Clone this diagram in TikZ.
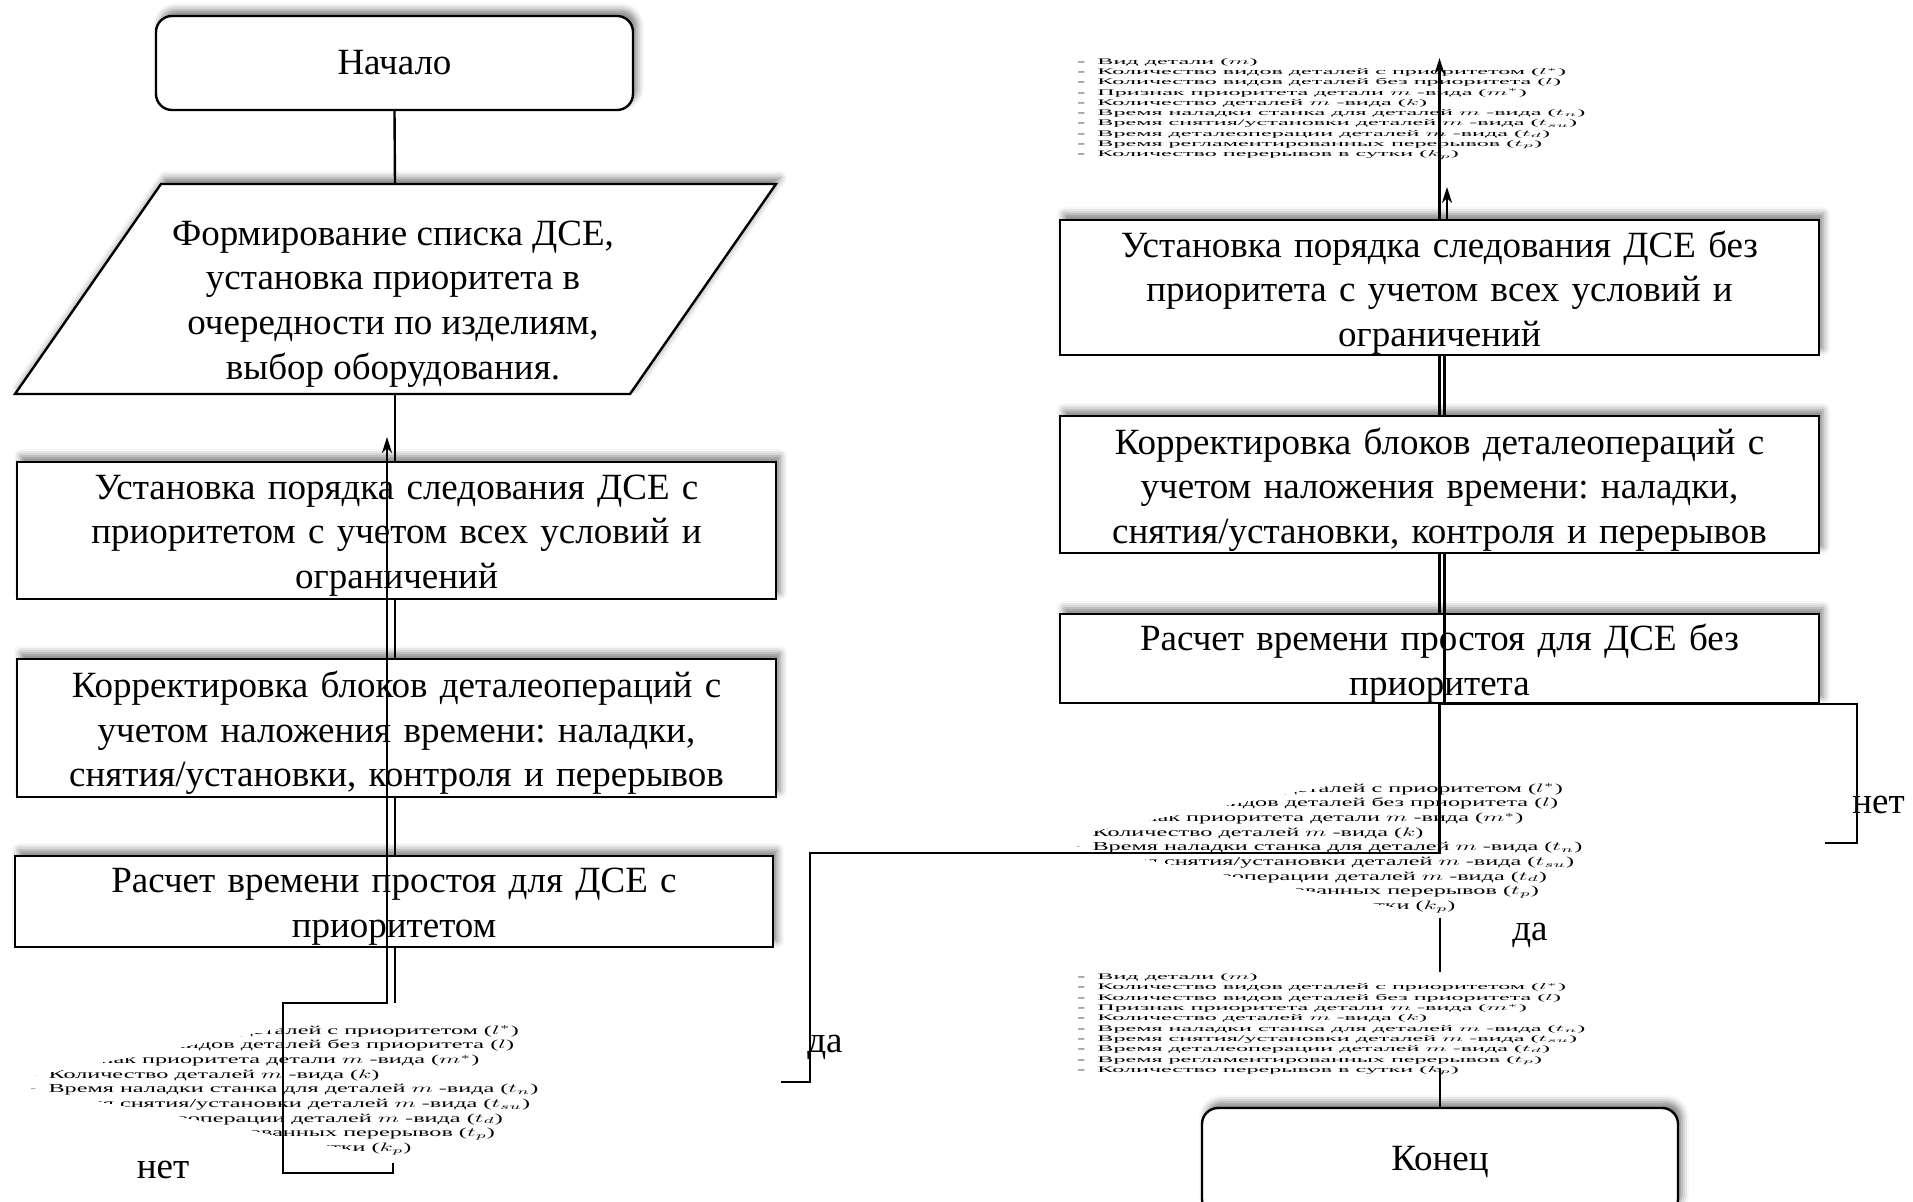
\documentclass[tikz,border=0pt]{standalone}
\usepackage{fontspec}
\setmainfont{Liberation Serif}
\usepackage{graphicx}
\usetikzlibrary{arrows.meta,shadows.blur}
\frenchspacing

\newcommand{\boxfont}{\fontsize{18.5}{22.3}\selectfont\frenchspacing}
\newcommand{\paramlist}{{\fontsize{10}{12}\selectfont
\begin{tabular}{@{}l@{}}
-\ \ Вид детали ($m$)\\
-\ \ Количество видов деталей с приоритетом ($l^{*}$)\\
-\ \ Количество видов деталей без приоритета ($l$)\\
-\ \ Признак приоритета детали $m$ -вида ($m^{*}$)\\
-\ \ Количество деталей $m$ -вида ($k$)\\
-\ \ Время наладки станка для деталей $m$ -вида ($t_n$)\\
-\ \ Время снятия/установки деталей $m$ -вида ($t_{su}$)\\
-\ \ Время деталеоперации деталей $m$ -вида ($t_d$)\\
-\ \ Время регламентированных перерывов ($t_p$)\\
-\ \ Количество перерывов в сутки ($k_p$)
\end{tabular}}}

\begin{document}
\begin{tikzpicture}[x=0.5pt,y=-0.5pt,
  shad/.style={blur shadow={shadow xshift=2pt, shadow yshift=3pt, shadow blur radius=3.5pt, shadow opacity=50}},
  box/.style={draw, line width=1.2pt, fill=white, inner sep=0pt, font=\boxfont, shad},
  btext/.style={inner sep=0pt, align=center, font=\boxfont, text width=370pt},
  term/.style={box, rounded corners=8pt},
  conn/.style={line width=1.2pt},
  arr/.style={conn, -{Stealth[length=8pt,width=5pt,inset=2.5pt]}},
  lab/.style={font=\boxfont, inner sep=0pt},
  lst/.style={inner sep=0pt, anchor=north west}]
\useasboundingbox (0,0) rectangle (1913,1202);

% ---------- left column ----------
\node[term, minimum width=238.5pt, minimum height=47pt] (start) at (394.5,63) {Начало};

\coordinate (pTL) at (161,184);
\coordinate (pTR) at (776,184);
\coordinate (pBR) at (630,394);
\coordinate (pBL) at (15,394);
\draw[line width=1.2pt, fill=white, shad] (pBL) -- (pTL) -- (pTR) -- (pBR) -- cycle;
\node[lab, align=center] (form) at (393,304) {Формирование списка ДСЕ,\\ установка приоритета в\\ очередности по изделиям,\\ выбор оборудования.};
\coordinate (formtop) at (395,184);
\coordinate (formbot) at (395,394);

\node[box, minimum width=379.5pt, minimum height=68.5pt] (b1) at (396.5,530.5) {};
\node[btext] (b1t) at ([yshift=-2.5pt]b1.center)
  {Установка порядка следования ДСЕ с\\ приоритетом с учетом всех условий и\\ ограничений};
\node[box, minimum width=379.5pt, minimum height=69pt] (b2) at (396.5,728) {};
\node[btext] (b2t) at ([yshift=-2.5pt]b2.center)
  {Корректировка блоков деталеопераций с\\ учетом наложения времени: наладки,\\ снятия/установки, контроля и перерывов};
\node[box, minimum width=379pt, minimum height=45.5pt] (b3) at (394,901.5) {};
\node[btext] (b3t) at ([yshift=-2.5pt]b3.center)
  {Расчет времени простоя для ДСЕ с\\ приоритетом};

% ---------- right column ----------
\node[box, minimum width=379.5pt, minimum height=67.5pt] (r1) at (1439.5,287.5) {};
\node[btext] (r1t) at ([yshift=-2.5pt]r1.center)
  {Установка порядка следования ДСЕ без\\ приоритета с учетом всех условий и\\ ограничений};
\node[box, minimum width=379.5pt, minimum height=68.5pt] (r2) at (1439.5,484.5) {};
\node[btext] (r2t) at ([yshift=-2.5pt]r2.center)
  {Корректировка блоков деталеопераций с\\ учетом наложения времени: наладки,\\ снятия/установки, контроля и перерывов};
\node[box, minimum width=379.5pt, minimum height=44.5pt] (r3) at (1439.5,658.5) {};
\node[btext] (r3t) at ([yshift=-2.5pt]r3.center)
  {Расчет времени простоя для ДСЕ без\\ приоритета};
\node[term, minimum width=238pt, minimum height=53.5pt] (fin) at (1440,1161.5) {Конец};

% ---------- parameter lists ----------
\node[lst] (listT) at (1077,56.5) {\resizebox*{254pt}{51.5pt}{\paramlist}};
\node[lst] (listB) at (1077,972) {\resizebox*{254pt}{51.5pt}{\paramlist}};
\begin{scope}
  \clip (0,1082) -- (405,1004) -- (810,1082) -- (405,1160) -- cycle;
  \node[lst] (listL) at (28,1009) {\resizebox*{255pt}{73.2pt}{\paramlist}};
\end{scope}
\begin{scope}
  \clip (1046,840) -- (1451,762) -- (1856,840) -- (1451,918) -- cycle;
  \node[lst] (listR) at (1072,767) {\resizebox*{255pt}{73.2pt}{\paramlist}};
\end{scope}

% ---------- labels ----------
\node[lab] (yesL) at (825,1047) {да};
\node[lab] (noL) at (163,1170) {нет};
\node[lab, anchor=west] (noR) at (1852,805) {нет};
\node[lab] (yesR) at (1530,935) {да};

% ---------- connectors, left ----------
\draw[conn] (start.south) -- (formtop);
\draw[conn] (formbot) -- (formbot |- b1.north);
\draw[conn] (b1.south -| formbot) -- (b2.north -| formbot);
\draw[conn] (b2.south -| formbot) -- (b3.north -| formbot);
\coordinate (lj) at (395,1003);
\draw[conn] (b3.south -| formbot) -- (lj);
\coordinate (la) at (387,1003);
\coordinate (lc1) at (283,1003);
\coordinate (lc2) at (283,1173);
\coordinate (lc3) at (393,1173);
\coordinate (lc4) at (393,1163);
\coordinate (ltip) at (387,437);
\draw[arr] (lc4) -- (lc3) -- (lc2) -- (lc1) -- (la) -- (ltip);

% ---------- connectors, right ----------
\coordinate (ttip) at (1439.5,58);
\coordinate (ttip2) at (1447,187);
\draw[arr] (r1.north) -- (ttip);
\draw[arr] (r1.north -| ttip2) -- (ttip2);
\draw[conn] (r1.south) -- (r2.north);
\draw[conn] ([xshift=2.5pt]r1.south) -- ([xshift=2.5pt]r2.north);
\draw[conn] (r2.south) -- (r3.north);
\draw[conn] ([xshift=2.5pt]r2.south) -- ([xshift=2.5pt]r3.north);
\draw[conn] ([xshift=2.5pt]r3.north) -- ([xshift=2.5pt]r3.south);

\coordinate (yes1) at (810,853);
\coordinate (dL) at (810,1082);
\coordinate (dL0) at (781,1082);
\draw[conn] (r3.south) -- (r3.south |- yes1) -- (yes1) -- (dL) -- (dL0);

\coordinate (no1) at (1857,704);
\coordinate (no2) at (1857,843);
\coordinate (no3) at (1825,843);
\draw[conn] (r3.south |- no1) -- (no1) -- (no2) -- (no3);

\coordinate (dRb) at (1440,918);
\draw[conn] (dRb) -- (listB.north -| dRb);
\coordinate (lbb) at (1440,1068);
\draw[conn] (lbb) -- (fin.north);
\end{tikzpicture}
\end{document}
